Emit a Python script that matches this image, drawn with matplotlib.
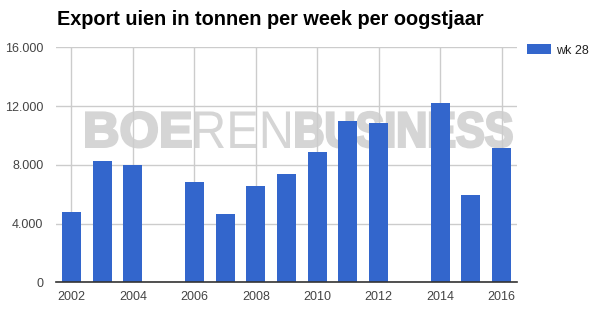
import numpy as np
import matplotlib
matplotlib.use('Agg')
import matplotlib.pyplot as plt
from matplotlib.textpath import TextPath
from matplotlib.font_manager import FontProperties
from matplotlib.patches import PathPatch
from matplotlib.transforms import Affine2D

# export per oogstjaar, week 28 (2005 and 2013 missing)
years = [2002, 2003, 2004, 2006, 2007, 2008, 2009, 2010, 2011, 2012, 2014, 2015, 2016]
export_wk28 = [4790, 8260, 7970, 6830, 4650, 6560, 7370, 8870, 10980, 10850, 12210, 5950, 9150]
year_ticks = [2002, 2004, 2006, 2008, 2010, 2012, 2014, 2016]
y_ticks = [0, 4000, 8000, 12000, 16000]
y_labels = ['0', '4.000', '8.000', '12.000', '16.000']

W, H = 597, 311
fig = plt.figure(figsize=(W / 100, H / 100), dpi=100)
ax = fig.add_axes([56 / W, 1 - 282.3 / H, 461 / W, 235 / H])

ax.bar(years, export_wk28, width=0.62, color='#3366cc', label='wk 28', zorder=2)
ax.set_xlim(2001.5, 2016.5)
ax.set_ylim(0, 16000)
ax.set_xticks(year_ticks)
ax.set_yticks(y_ticks)
ax.set_yticklabels(y_labels)
ax.set_axisbelow(True)
ax.grid(True, color='#cccccc', linewidth=1)
for s in ['top', 'right', 'left']:
    ax.spines[s].set_visible(False)
ax.spines['bottom'].set_color('#333333')
ax.spines['bottom'].set_linewidth(1.2)
ax.spines['bottom'].set_zorder(3)
ax.tick_params(length=0, labelsize=9, colors='#444444', labelfontfamily='Liberation Sans')
ax.tick_params(axis='y', pad=9)
ax.tick_params(axis='x', pad=6)

fig.text(57 / W, 1 - 25 / H, 'Export uien in tonnen per week per oogstjaar',
         fontsize=14.3, fontweight='bold', family='Liberation Sans', va='baseline')

leg = ax.legend(loc='upper left', bbox_to_anchor=(527 / W, 1 - 44 / H),
                bbox_transform=fig.transFigure, frameon=False, fontsize=9,
                handlelength=1.9, handleheight=0.9, handletextpad=0.45,
                borderpad=0, borderaxespad=0)
for t in leg.get_texts():
    t.set_family('Liberation Sans')
    t.set_color('#222222')

# watermark, squeezed to fit the measured spans; bold parts get a stroke to look heavier
wm_color = '#d5d5d5'
pieces = [('BOE', 'bold', 85, 192), ('REN', 'normal', 195, 290), ('BUSINESS', 'bold', 295, 513)]
for txt, wt, x0, x1 in pieces:
    grow = 2.6 if wt == 'bold' else 0.0
    cap = 38.0 - grow
    base = 148.0 - grow / 2
    fp = FontProperties(family='Liberation Sans', weight=wt)
    tp = TextPath((0, 0), txt, size=1, prop=fp)
    ext = tp.get_extents()
    sy = cap / 0.716
    sx = (x1 - x0 - grow) / ext.width
    tr = (Affine2D().translate(-ext.x0, 0).scale(sx / W, sy / H)
          .translate((x0 + grow / 2) / W, 1 - base / H) + fig.transFigure)
    ax.add_patch(PathPatch(tp, transform=tr, facecolor=wm_color, edgecolor=wm_color,
                           linewidth=grow * 0.72, joinstyle='miter', zorder=0.3))

fig.savefig('out.png', dpi=100)
